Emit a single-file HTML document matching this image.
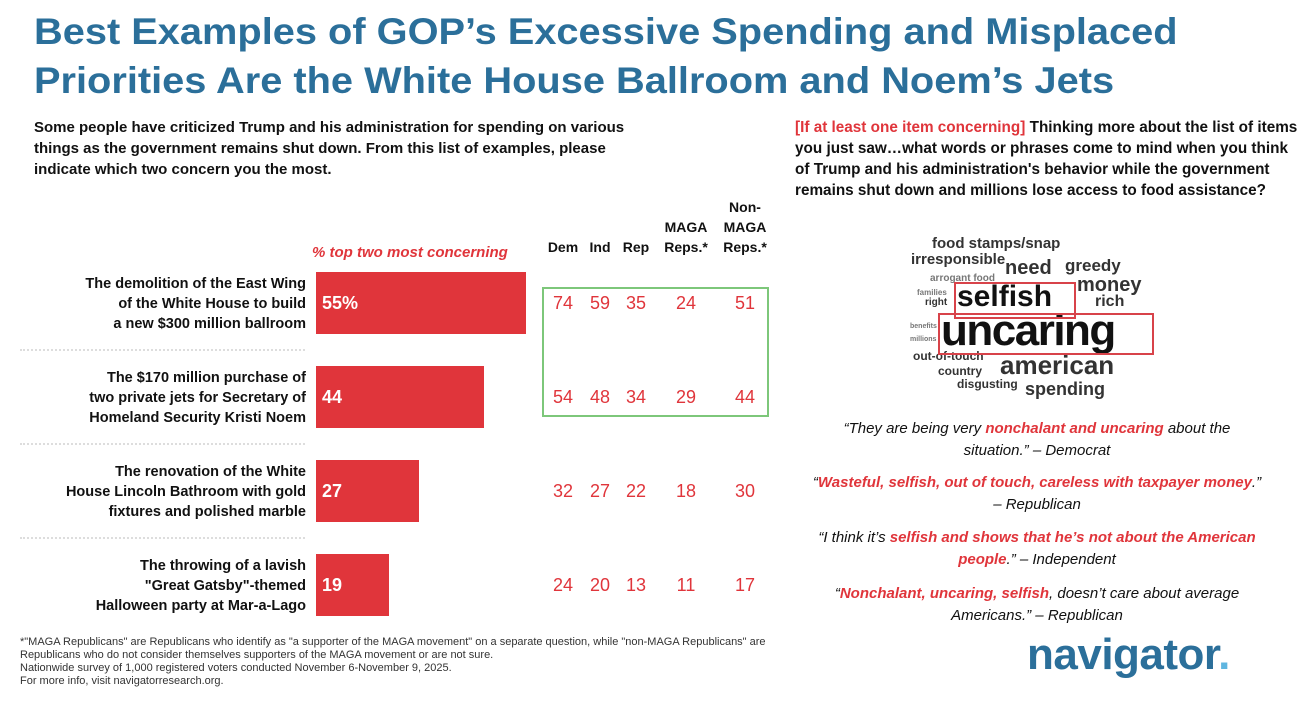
<!DOCTYPE html>
<html><head><meta charset="utf-8">
<style>
body{margin:0;width:1315px;height:708px;background:#fff;font-family:"Liberation Sans",sans-serif;position:relative;overflow:hidden;color:#111}
.a{position:absolute}
h1{position:absolute;left:34px;top:7px;margin:0;font-size:37px;line-height:49px;color:#2b6f9a;font-weight:bold;transform:scaleX(1.075);transform-origin:0 0;white-space:nowrap}
.q{font-size:15px;font-weight:bold;line-height:21px}
.lab{position:absolute;right:1009px;width:280px;text-align:right;font-size:14.5px;font-weight:bold;line-height:20px}
.num{position:absolute;color:#e0353b;font-size:18px;text-align:center;width:40px}
.hd{position:absolute;font-size:14px;font-weight:bold;text-align:center;line-height:20px}
.dot{position:absolute;left:20px;width:285px;border-top:2px dotted #ddd}
.qt{position:absolute;left:812px;width:450px;text-align:center;font-style:italic;font-size:15px;line-height:22px}
.r{color:#e0353b;font-weight:bold}
.w{position:absolute;font-weight:bold;color:#333;white-space:nowrap}
</style></head><body>
<h1>Best Examples of GOP’s Excessive Spending and Misplaced<br>Priorities Are the White House Ballroom and Noem’s Jets</h1>
<div class="a q" style="left:34px;top:117px;width:625px">Some people have criticized Trump and his administration for spending on various things as the government remains shut down. From this list of examples, please indicate which two concern you the most.</div>
<div class="a q" style="left:795px;top:117px;width:505px;font-size:15.3px"><span class="r">[If at least one item concerning]</span> Thinking more about the list of items you just saw…what words or phrases come to mind when you think of Trump and his administration's behavior while the government remains shut down and millions lose access to food assistance?</div>
<div class="a" style="left:312px;top:244px;color:#e0353b;font-weight:bold;font-style:italic;font-size:15px">% top two most concerning</div>
<div class="hd" style="left:543px;top:237px;width:40px">Dem</div>
<div class="hd" style="left:580px;top:237px;width:40px">Ind</div>
<div class="hd" style="left:616px;top:237px;width:40px">Rep</div>
<div class="hd" style="left:656px;top:197px;width:60px"><br>MAGA<br>Reps.*</div>
<div class="hd" style="left:715px;top:197px;width:60px">Non-<br>MAGA<br>Reps.*</div>
<div class="a" style="left:542px;top:287px;width:223px;height:126px;border:2px solid #7dc77a"></div>
<div id="chart"></div>
<div class="dot" style="top:349px"></div>
<div class="dot" style="top:443px"></div>
<div class="dot" style="top:537px"></div>

<div class="a" style="left:905px;top:232px;width:275px;height:175px">
<div class="w" style="left:27px;top:3px;font-size:15px">food stamps/snap</div>
<div class="w" style="left:6px;top:19px;font-size:15px">irresponsible</div>
<div class="w" style="left:100px;top:25px;font-size:20px">need</div>
<div class="w" style="left:160px;top:24px;font-size:17px">greedy</div>
<div class="w" style="left:172px;top:42px;font-size:20px">money</div>
<div class="w" style="left:25px;top:41px;font-size:10px;color:#777">arrogant  food</div>
<div class="w" style="left:12px;top:56px;font-size:8px;color:#777">families</div>
<div class="w" style="left:20px;top:65px;font-size:10px">right</div>
<div class="w" style="left:52px;top:48px;font-size:30px;color:#111">selfish</div>
<div class="w" style="left:190px;top:61px;font-size:16px">rich</div>
<div class="w" style="left:36px;top:74px;font-size:44px;color:#111;letter-spacing:-1.5px">uncaring</div>
<div class="w" style="left:5px;top:91px;font-size:7px;color:#777">benefits</div>
<div class="w" style="left:5px;top:104px;font-size:7px;color:#777">millions</div>
<div class="w" style="left:8px;top:117px;font-size:12px">out-of-touch</div>
<div class="w" style="left:95px;top:118px;font-size:26px">american</div>
<div class="w" style="left:33px;top:132px;font-size:12px">country</div>
<div class="w" style="left:52px;top:145px;font-size:12px">disgusting</div>
<div class="w" style="left:120px;top:147px;font-size:18px">spending</div>
<div class="a" style="left:49px;top:50px;width:118px;height:33px;border:2px solid #d8434a"></div>
<div class="a" style="left:33px;top:81px;width:212px;height:38px;border:2px solid #d8434a"></div>
</div>

<div class="qt" style="top:418px">“They are being very <span class="r">nonchalant and uncaring</span> about the situation.” – Democrat</div>
<div class="qt" style="top:472px">“<span class="r">Wasteful, selfish, out of touch, careless with taxpayer money</span>.” – Republican</div>
<div class="qt" style="top:527px">“I think it’s <span class="r">selfish and shows that he’s not about the American people</span>.” – Independent</div>
<div class="qt" style="top:583px">“<span class="r">Nonchalant, uncaring, selfish</span>, doesn’t care about average Americans.” – Republican</div>

<div class="a" style="left:20px;top:636px;font-size:11px;line-height:13px;color:#333;width:930px">*"MAGA Republicans" are Republicans who identify as "a supporter of the MAGA movement" on a separate question, while "non-MAGA Republicans" are<br>Republicans who do not consider themselves supporters of the MAGA movement or are not sure.<br>Nationwide survey of 1,000 registered voters conducted November 6-November 9, 2025.<br>For more info, visit navigatorresearch.org.</div>
<div class="a" style="left:1027px;top:630px;font-size:44px;font-weight:bold;color:#2b6f9a;letter-spacing:-0.5px">navigator<span style="color:#5fb6e0">.</span></div>

<script>
const items=["The demolition of the East Wing<br>of the White House to build<br>a new $300 million ballroom","The $170 million purchase of<br>two private jets for Secretary of<br>Homeland Security Kristi Noem","The renovation of the White<br>House Lincoln Bathroom with gold<br>fixtures and polished marble","The throwing of a lavish<br>\"Great Gatsby\"-themed<br>Halloween party at Mar-a-Lago"];
const totals=[55,44,27,19];
const dem=[74,54,32,24];
const ind=[59,48,27,20];
const rep=[35,34,22,13];
const maga=[24,29,18,11];
const nonmaga=[51,44,30,17];
const x0=316, scale=210/55;
function xs(v){return v*scale;}
function rowTop(i){return 272+i*94;}
const c=document.getElementById('chart');
items.forEach((t,i)=>{
 const y=rowTop(i);
 const l=document.createElement('div');l.className='lab';l.style.top=(y+2)+'px';l.innerHTML=t;
 
 
 c.appendChild(l);
 const b=document.createElement('div');b.className='a';
 b.style.cssText=`left:${x0}px;top:${y}px;width:${xs(totals[i])}px;height:62px;background:#e0353b`;
 
 
 c.appendChild(b);
 const v=document.createElement('div');v.className='a';
 v.style.cssText=`left:${x0+6}px;top:${y+21}px;color:#fff;font-weight:bold;font-size:18px`;
 v.textContent=totals[i]+(i===0?'%':'');
 
 
 c.appendChild(v);
 [[dem,563],[ind,600],[rep,636],[maga,686],[nonmaga,745]].forEach(([arr,cx])=>{
  const n=document.createElement('div');n.className='num';
  n.style.left=(cx-20)+'px';n.style.top=(y+21)+'px';n.textContent=arr[i];
  
  
  c.appendChild(n);
 });
});
</script>
</body></html>
